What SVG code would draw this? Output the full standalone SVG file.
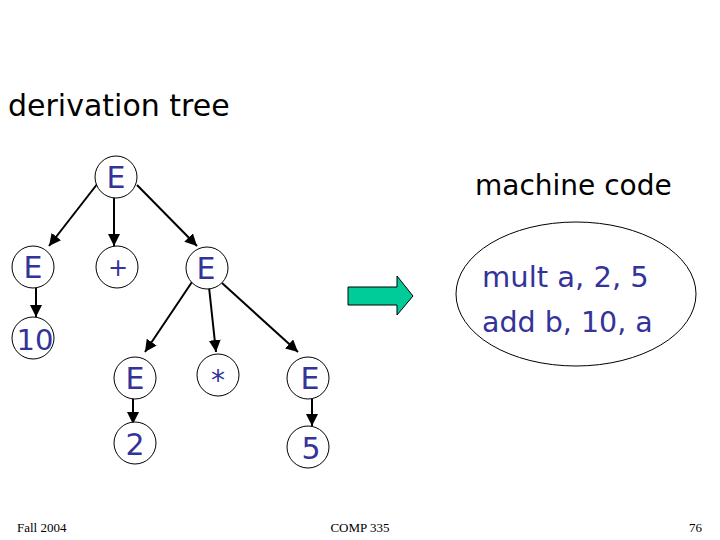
<svg xmlns="http://www.w3.org/2000/svg" width="720" height="540" viewBox="0 0 720 540">
<style>
.n{fill:#fff;stroke:#000;stroke-width:1}
.t{font-family:"DejaVu Sans",sans-serif;font-size:30px;fill:#333399;text-anchor:middle}
.h{font-family:"DejaVu Sans",sans-serif;font-size:29px;fill:#000}
.c{font-family:"DejaVu Sans",sans-serif;font-size:29px;fill:#333399}
.f{font-family:"Liberation Serif",serif;font-size:13px;fill:#000}
.e{stroke:#000;stroke-width:2;fill:none;marker-end:url(#ah)}
</style>
<defs>
<marker id="ah" viewBox="0 0 10 10" refX="10" refY="5" markerWidth="6" markerHeight="6" orient="auto" markerUnits="strokeWidth">
<path d="M0,0 L10,5 L0,10 z" fill="#000"/>
</marker>
</defs>
<rect width="720" height="540" fill="#fff"/>
<text class="h" x="8" y="116" style="font-size:30px">derivation tree</text>
<text class="h" x="475" y="195" style="font-size:28px">machine code</text>
<g id="connectors">
<line class="e" x1="98" y1="183" x2="49" y2="246"/>
<line class="e" x1="114" y1="198" x2="114" y2="246"/>
<line class="e" x1="137" y1="185" x2="197" y2="246"/>
<line class="e" x1="36" y1="288" x2="36" y2="317"/>
<line class="e" x1="192" y1="282" x2="145" y2="352"/>
<line class="e" x1="209" y1="287" x2="216" y2="352"/>
<line class="e" x1="222" y1="283" x2="298" y2="352"/>
<line class="e" x1="133" y1="395" x2="133" y2="424"/>
<line class="e" x1="312" y1="395" x2="312" y2="426"/>
</g>
<g id="n_root"><circle class="n" cx="116" cy="177" r="21"/><text class="t" x="116" y="188">E</text></g>
<g id="n_e1"><circle class="n" cx="33" cy="267" r="21"/><text class="t" x="33" y="278">E</text></g>
<g id="n_plus"><circle class="n" cx="117" cy="267" r="21"/><text class="t" x="118" y="276" style="font-size:24px">+</text></g>
<g id="n_e2"><circle class="n" cx="207" cy="268" r="21"/><text class="t" x="206" y="279">E</text></g>
<g id="n_10"><circle class="n" cx="33" cy="338" r="21"/><text class="t" x="35" y="350" style="font-size:29px">10</text></g>
<g id="n_e3"><circle class="n" cx="135" cy="378" r="21"/><text class="t" x="135" y="389">E</text></g>
<g id="n_mul"><circle class="n" cx="218" cy="375" r="21"/><text class="t" x="218" y="390" style="font-size:28px">*</text></g>
<g id="n_e4"><circle class="n" cx="308" cy="378" r="21"/><text class="t" x="310" y="389">E</text></g>
<g id="n_2"><circle class="n" cx="135" cy="443" r="21"/><text class="t" x="135" y="455">2</text></g>
<g id="n_5"><circle class="n" cx="308" cy="447" r="21"/><text class="t" x="311" y="459">5</text></g>
<g id="arrow"><path d="M348,287 L397,287 L397,276 L413,296 L397,315 L397,305 L348,305 z" fill="#00cc99" stroke="#000" stroke-width="1"/></g>
<g id="code"><ellipse cx="576" cy="294" rx="120" ry="72" fill="none" stroke="#000" stroke-width="1"/>
<text class="c" x="482" y="287">mult a, 2, 5</text>
<text class="c" x="482" y="332" style="font-size:28.5px">add b, 10, a</text></g>
<text class="f" x="17" y="532">Fall 2004</text>
<text class="f" x="360" y="532" text-anchor="middle">COMP 335</text>
<text class="f" x="702" y="532" text-anchor="end">76</text>
</svg>
